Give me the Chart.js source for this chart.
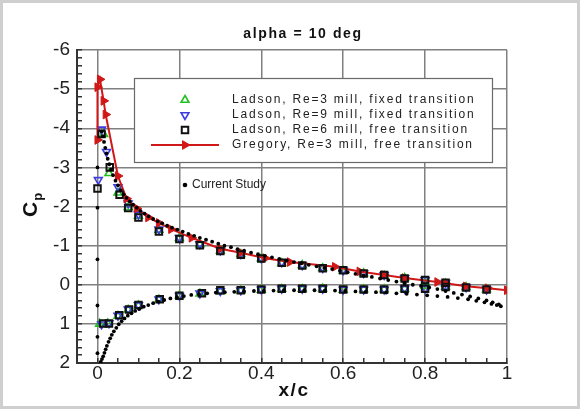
<!DOCTYPE html>
<html>
<head>
<meta charset="utf-8">
<script src="https://cdn.jsdelivr.net/npm/chart.js"></script>
<style>
  html, body { margin: 0; padding: 0; background: #fff; }
  canvas { display: block; }
</style>
</head>
<body>
<canvas id="cp" width="580" height="409"></canvas>
<script>
// pressure coefficient, alpha = 10 deg  -- values as [x/c, Cp]

const STUDY_LE = [[0, 1.75], [0, 1.33], [0, 0.53], [0, -0.65], [0, -1.97], [0, -3.0]];

const STUDY_UPPER = [
  [0.010, -3.92], [0.013, -3.80], [0.016, -3.65], [0.019, -3.50], [0.022, -3.36],
  [0.025, -3.22], [0.029, -3.08], [0.033, -2.95], [0.038, -2.80], [0.044, -2.66],
  [0.050, -2.54], [0.057, -2.42], [0.064, -2.31], [0.071, -2.22], [0.079, -2.13],
  [0.087, -2.05], [0.096, -1.97], [0.105, -1.89], [0.115, -1.82], [0.125, -1.75],
  [0.136, -1.68], [0.147, -1.62], [0.158, -1.57], [0.170, -1.51], [0.182, -1.46],
  [0.195, -1.41], [0.208, -1.36], [0.222, -1.30], [0.236, -1.25], [0.250, -1.20],
  [0.265, -1.15], [0.280, -1.10], [0.295, -1.05], [0.310, -1.00], [0.326, -0.96],
  [0.342, -0.91], [0.358, -0.87], [0.375, -0.82], [0.392, -0.78], [0.409, -0.74],
  [0.426, -0.70], [0.444, -0.66], [0.462, -0.62], [0.480, -0.58], [0.498, -0.55],
  [0.516, -0.51], [0.535, -0.47], [0.554, -0.43], [0.573, -0.40], [0.592, -0.36],
  [0.611, -0.32], [0.630, -0.28], [0.650, -0.24], [0.670, -0.20], [0.690, -0.16],
  [0.710, -0.12], [0.730, -0.08], [0.750, -0.04], [0.770, 0.00], [0.790, 0.03],
  [0.810, 0.07], [0.830, 0.11], [0.850, 0.16], [0.870, 0.21], [0.890, 0.25],
  [0.910, 0.30], [0.930, 0.35], [0.950, 0.40], [0.965, 0.45], [0.980, 0.50]
];

const STUDY_LOWER = [
  [0.008, 1.97], [0.011, 1.90], [0.014, 1.83], [0.017, 1.74], [0.020, 1.65],
  [0.023, 1.56], [0.027, 1.46], [0.031, 1.37], [0.035, 1.28], [0.040, 1.19],
  [0.046, 1.10], [0.052, 1.01], [0.059, 0.93], [0.066, 0.86], [0.074, 0.79],
  [0.083, 0.73], [0.092, 0.67], [0.102, 0.62], [0.113, 0.56], [0.124, 0.52],
  [0.136, 0.47], [0.149, 0.43], [0.163, 0.39], [0.178, 0.35], [0.194, 0.32],
  [0.211, 0.29], [0.229, 0.26], [0.248, 0.24], [0.268, 0.22], [0.289, 0.20],
  [0.311, 0.19], [0.334, 0.18], [0.358, 0.17], [0.382, 0.16], [0.406, 0.16],
  [0.430, 0.15], [0.455, 0.14], [0.480, 0.14], [0.505, 0.14], [0.530, 0.14],
  [0.555, 0.15], [0.580, 0.15], [0.605, 0.16], [0.630, 0.17], [0.655, 0.18],
  [0.680, 0.19], [0.705, 0.20], [0.730, 0.22], [0.755, 0.23], [0.780, 0.25],
  [0.805, 0.27], [0.830, 0.29], [0.855, 0.31], [0.880, 0.34], [0.905, 0.37],
  [0.925, 0.41], [0.945, 0.45], [0.962, 0.49], [0.975, 0.52], [0.985, 0.55]
];

const GREGORY = [
  [0, -3.7], [0, -5.05], [0.006, -5.25], [0.015, -4.7], [0.02, -4.35],
  [0.05, -2.78], [0.071, -2.2], [0.096, -1.95], [0.124, -1.72], [0.15, -1.58],
  [0.18, -1.42], [0.23, -1.2], [0.30, -0.92], [0.35, -0.82], [0.41, -0.68],
  [0.47, -0.58], [0.58, -0.46], [0.64, -0.34], [0.70, -0.25], [0.75, -0.17],
  [0.83, -0.07], [0.85, -0.04], [0.90, 0.04], [0.953, 0.09], [1.0, 0.14]
];

const LADSON_RE3 = [
  [0.015, -3.85], [0.028, -2.85], [0.05, -2.35], [0.075, -1.98], [0.1, -1.76],
  [0.15, -1.40], [0.2, -1.19], [0.25, -1.03], [0.3, -0.87], [0.35, -0.78],
  [0.4, -0.67], [0.45, -0.55], [0.5, -0.50], [0.55, -0.42], [0.6, -0.35],
  [0.65, -0.29], [0.7, -0.23], [0.75, -0.17], [0.8, -0.06], [0.85, -0.03],
  [0.9, 0.06], [0.95, 0.12],
  [0.005, 1.0], [0.025, 0.99], [0.05, 0.80], [0.075, 0.64], [0.1, 0.53],
  [0.15, 0.38], [0.2, 0.28], [0.25, 0.23], [0.3, 0.17], [0.35, 0.15],
  [0.4, 0.13], [0.45, 0.11], [0.5, 0.11], [0.55, 0.10], [0.6, 0.13],
  [0.65, 0.12], [0.7, 0.12], [0.75, 0.10], [0.8, 0.03], [0.85, 0.05]
];

const LADSON_RE9 = [
  [0.002, -2.68], [0.01, -3.97], [0.022, -3.4], [0.05, -2.5], [0.075, -2.08],
  [0.1, -1.80], [0.15, -1.42], [0.2, -1.20], [0.25, -1.04], [0.3, -0.88],
  [0.35, -0.79], [0.4, -0.68], [0.45, -0.58], [0.5, -0.50], [0.55, -0.43],
  [0.6, -0.37], [0.65, -0.30], [0.7, -0.25], [0.75, -0.17], [0.8, -0.12],
  [0.85, -0.05], [0.9, 0.06], [0.95, 0.12],
  [0.01, 1.01], [0.028, 0.98], [0.05, 0.79], [0.075, 0.63], [0.1, 0.52],
  [0.15, 0.37], [0.2, 0.28], [0.25, 0.22], [0.3, 0.16], [0.35, 0.14],
  [0.4, 0.12], [0.45, 0.10], [0.5, 0.10], [0.55, 0.10], [0.6, 0.12],
  [0.65, 0.12], [0.7, 0.12], [0.75, 0.10], [0.8, 0.10], [0.85, 0.06]
];

const LADSON_RE6 = [
  [0, -2.46], [0.01, -3.85], [0.03, -3.0], [0.054, -2.30], [0.075, -1.96],
  [0.1, -1.72], [0.15, -1.36], [0.2, -1.17], [0.25, -1.01], [0.3, -0.86],
  [0.35, -0.77], [0.4, -0.67], [0.45, -0.56], [0.5, -0.49], [0.55, -0.42],
  [0.6, -0.37], [0.65, -0.29], [0.7, -0.25], [0.75, -0.16], [0.8, -0.12],
  [0.85, -0.05], [0.9, 0.07], [0.95, 0.12],
  [0.014, 0.99], [0.028, 0.99], [0.053, 0.78], [0.077, 0.63], [0.1, 0.52],
  [0.152, 0.37], [0.2, 0.28], [0.255, 0.22], [0.3, 0.14], [0.35, 0.14],
  [0.4, 0.12], [0.45, 0.10], [0.5, 0.10], [0.55, 0.10], [0.6, 0.12],
  [0.65, 0.12], [0.7, 0.12], [0.75, 0.10], [0.8, 0.10], [0.85, 0.06]
];

const X_LABELS = [0, 0.2, 0.4, 0.6, 0.8, 1];
const Y_LABELS = [-6, -5, -4, -3, -2, -1, 0, 1, 2];

const toXY = arr => arr.map(([x, y]) => ({ x, y }));
const onList = (list, v) => list.some(t => Math.abs(t - v) < 1e-6);

const TICK_FONT = { family: '"Liberation Sans", Arial, sans-serif', size: 19 };

// dataset 0 is painted on top
const datasets = [
  {
    label: 'Current Study',
    data: toXY(STUDY_LE.concat(STUDY_UPPER, STUDY_LOWER)),
    pointStyle: 'circle', pointRadius: 1.9, borderWidth: 0,
    backgroundColor: '#000', borderColor: '#000', showLine: false
  },
  {
    label: 'Ladson, Re=6 mill, free transition', legendRank: 2,
    data: toXY(LADSON_RE6),
    pointStyle: 'rect', pointRadius: 4.6, pointBorderWidth: 2,
    backgroundColor: 'rgba(0,0,0,0)', borderColor: '#111', showLine: false
  },
  {
    label: 'Gregory, Re=3 mill, free transition', legendRank: 3,
    data: toXY(GREGORY),
    showLine: true, borderColor: '#d01818', borderWidth: 2,
    pointStyle: 'triangle', pointRotation: 90, pointRadius: 5,
    pointBackgroundColor: '#d01818', pointBorderColor: '#d01818', pointBorderWidth: 1
  },
  {
    label: 'Ladson, Re=9 mill, fixed transition', legendRank: 1,
    data: toXY(LADSON_RE9),
    pointStyle: 'triangle', pointRotation: 180, pointRadius: 4.5, pointBorderWidth: 1.6,
    backgroundColor: 'rgba(0,0,0,0)', borderColor: '#3c3ce0', showLine: false
  },
  {
    label: 'Ladson, Re=3 mill, fixed transition', legendRank: 0,
    data: toXY(LADSON_RE3),
    pointStyle: 'triangle', pointRadius: 4.5, pointBorderWidth: 1.6,
    backgroundColor: 'rgba(0,0,0,0)', borderColor: '#22c022', showLine: false
  }
];

function drawMarker(ctx, ds, x, y) {
  ctx.save();
  ctx.strokeStyle = ds.pointBorderColor || ds.borderColor;
  ctx.fillStyle = ds.pointBackgroundColor || ds.backgroundColor;
  ctx.lineWidth = ds.pointBorderWidth || 1;
  Chart.helpers.drawPoint(ctx, {
    pointStyle: ds.pointStyle, radius: ds.pointRadius,
    rotation: ds.pointRotation || 0, borderWidth: ds.pointBorderWidth || 1
  }, x, y);
  ctx.restore();
}

const decor = {
  id: 'decor',
  beforeDraw(chart) {
    const ctx = chart.ctx;
    ctx.save();
    ctx.fillStyle = '#fff';
    ctx.fillRect(0, 0, chart.width, chart.height);
    ctx.strokeStyle = '#cfcfcf';
    ctx.lineWidth = 3;
    ctx.strokeRect(1.5, 1.5, chart.width - 3, chart.height - 3);
    ctx.restore();
  },
  afterDatasetsDraw(chart) {
    const ctx = chart.ctx;
    ctx.save();

    // legend box
    ctx.fillStyle = '#fff';
    ctx.fillRect(134, 78, 359, 85);
    ctx.strokeStyle = '#6a6a6a';
    ctx.lineWidth = 1.2;
    ctx.strokeRect(134.5, 78.5, 358, 84);

    const items = chart.data.datasets
      .filter(d => d.legendRank !== undefined)
      .sort((a, b) => a.legendRank - b.legendRank);
    ctx.font = '12px "Liberation Sans", Arial, sans-serif';
    ctx.letterSpacing = '1.8px';
    ctx.textBaseline = 'middle';
    ctx.textAlign = 'left';
    items.forEach((ds, i) => {
      const y = 100 + i * 15;
      if (ds.showLine) {
        ctx.strokeStyle = ds.borderColor;
        ctx.lineWidth = ds.borderWidth;
        ctx.beginPath();
        ctx.moveTo(151, y);
        ctx.lineTo(219, y);
        ctx.stroke();
      }
      drawMarker(ctx, ds, 185, y);
      ctx.fillStyle = '#222';
      ctx.fillText(ds.label, 232, y);
    });

    // current study annotation
    const study = chart.data.datasets[0];
    ctx.fillStyle = '#000';
    ctx.beginPath();
    ctx.arc(185, 185, 2.3, 0, Math.PI * 2);
    ctx.fill();
    ctx.letterSpacing = '0px';
    ctx.font = '12px "Liberation Sans", Arial, sans-serif';
    ctx.fillStyle = '#222';
    ctx.fillText(study.label, 192, 185);

    // title
    ctx.font = 'bold 14px "Liberation Sans", Arial, sans-serif';
    ctx.letterSpacing = '1.6px';
    ctx.textAlign = 'center';
    ctx.fillStyle = '#111';
    ctx.fillText('alpha = 10 deg', 303, 34);

    // x title
    ctx.font = 'bold 19px "Liberation Sans", Arial, sans-serif';
    ctx.letterSpacing = '1.5px';
    ctx.fillText('x/c', 294, 391);

    // y title with subscript
    ctx.letterSpacing = '0px';
    ctx.translate(37, 217);
    ctx.rotate(-Math.PI / 2);
    ctx.textAlign = 'left';
    ctx.textBaseline = 'alphabetic';
    ctx.font = 'bold 21px "Liberation Sans", Arial, sans-serif';
    ctx.fillText('C', 0, 0);
    const w = ctx.measureText('C').width;
    ctx.font = 'bold 13px "Liberation Sans", Arial, sans-serif';
    ctx.fillText('p', w + 1, 5);
    ctx.restore();
  }
};

new Chart(document.getElementById('cp'), {
  type: 'scatter',
  data: { datasets },
  options: {
    responsive: false,
    animation: false,
    events: [],
    layout: { padding: { top: 50, right: 73, bottom: 0, left: 0 } },
    plugins: {
      legend: { display: false },
      tooltip: { enabled: false },
      title: { display: false }
    },
    scales: {
      x: {
        type: 'linear', min: -0.05, max: 1,
        afterFit: s => { s.height = 46; },
        border: { color: '#333', width: 2 },
        grid: {
          color: c => onList(X_LABELS, c.tick.value) ? '#808080' : 'rgba(0,0,0,0)',
          tickColor: '#333', lineWidth: 1.5, tickWidth: 1.5, tickLength: -5
        },
        ticks: {
          stepSize: 0.05, autoSkip: false, maxRotation: 0, minRotation: 0,
          padding: 4, color: '#222', font: TICK_FONT,
          callback: v => onList(X_LABELS, v) ? String(Math.round(v * 10) / 10) : ''
        }
      },
      y: {
        type: 'linear', min: -6, max: 2, reverse: true,
        afterFit: s => { s.width = 77; },
        border: { color: '#333', width: 2 },
        grid: {
          color: c => onList(Y_LABELS, c.tick.value) ? '#808080' : 'rgba(0,0,0,0)',
          tickColor: '#333', lineWidth: 1.5, tickWidth: 1.5, tickLength: -5
        },
        ticks: {
          stepSize: 0.2, autoSkip: false,
          padding: 12, color: '#222', font: TICK_FONT,
          callback: v => onList(Y_LABELS, v) ? String(Math.round(v)) : ''
        }
      }
    }
  },
  plugins: [decor]
});
</script>
</body>
</html>
